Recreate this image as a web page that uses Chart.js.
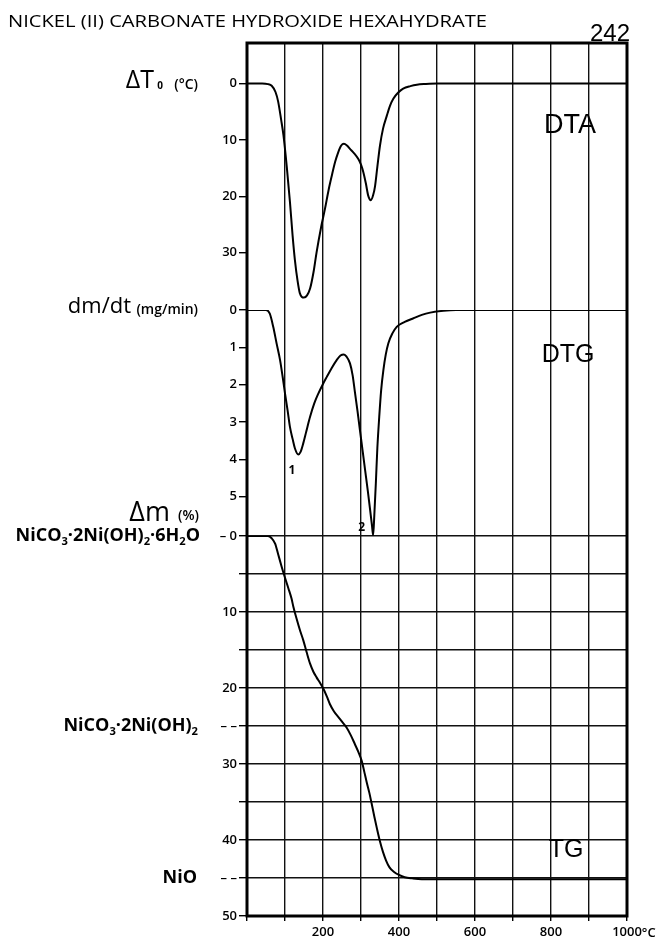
<!DOCTYPE html>
<html>
<head>
<meta charset="utf-8">
<script src="https://cdn.jsdelivr.net/npm/chart.js@4.4.1/dist/chart.umd.min.js"></script>
<style>
  body { margin: 0; background: #fff; }
</style>
</head>
<body>
<canvas id="myChart" width="659" height="940"></canvas>
<script>
'use strict';

// DTA curve: temperature (°C) and ΔT (°C, endotherm downwards)
const dtaTemp = [0, 40, 55, 65, 75, 82, 90, 96, 105, 113, 120, 126, 133, 139, 150, 158, 166, 175, 183, 195, 205, 215, 223, 232, 240, 248, 255, 263, 271, 282, 293, 300, 306, 313, 319, 326, 332, 337, 343, 350, 358, 368, 376, 385, 398, 411, 430, 447, 470, 500, 1000];
const dtaVal = [0, 0, 0.1, 0.4, 1.5, 3.2, 6.5, 9.2, 15, 21, 27, 31.3, 35, 37.2, 38, 37.6, 36.4, 33.5, 30, 25.5, 22.3, 18.8, 16.4, 13.9, 12.2, 11.0, 10.7, 11.0, 11.6, 12.4, 13.4, 14.4, 15.7, 17.8, 19.9, 20.7, 19.8, 18.2, 14.8, 11.0, 8.0, 5.7, 4.0, 2.7, 1.6, 0.9, 0.45, 0.2, 0.08, 0, 0];

// DTG curve: temperature (°C) and dm/dt (mg/min)
const dtgTemp = [0, 50, 60, 69, 78, 87, 94, 100, 107, 113, 120, 126, 135, 141, 148, 156, 166, 177, 188, 199, 210, 223, 236, 246, 255, 262, 271, 278, 284, 291, 297, 304, 311, 318, 324, 329, 332, 335, 339, 343, 348, 353, 359, 365, 372, 383, 394, 415, 438, 460, 482, 517, 550, 1000];
const dtgVal = [0, 0, 0.1, 0.45, 0.9, 1.34, 1.8, 2.23, 2.7, 3.13, 3.45, 3.7, 3.87, 3.8, 3.57, 3.25, 2.86, 2.5, 2.23, 2.0, 1.79, 1.55, 1.34, 1.22, 1.19, 1.25, 1.43, 1.75, 2.2, 2.72, 3.2, 3.75, 4.3, 4.85, 5.35, 5.78, 6.03, 5.5, 4.65, 3.7, 2.86, 2.15, 1.6, 1.2, 0.89, 0.62, 0.45, 0.32, 0.22, 0.13, 0.07, 0.02, 0, 0];

// TG curve: temperature (°C) and mass loss Δm (%)
const tgTemp = [0, 55, 65, 74, 82, 91, 100, 109, 117, 122, 130, 140, 148, 157, 166, 175, 183, 192, 201, 210, 218, 229, 240, 251, 262, 273, 284, 293, 302, 309, 315, 322, 328, 335, 342, 350, 358, 366, 375, 387, 400, 415, 435, 460, 1000];
const tgVal = [0, 0, 0.3, 1.0, 2.4, 4.0, 5.5, 6.9, 8.2, 9.3, 10.8, 12.5, 13.7, 15.3, 16.8, 17.9, 18.6, 19.3, 20.1, 21.1, 22.1, 23.1, 23.8, 24.5, 25.2, 26.2, 27.4, 28.4, 29.6, 31.1, 32.4, 33.8, 35.2, 36.9, 38.5, 40.2, 41.6, 42.7, 43.6, 44.2, 44.6, 44.9, 45.05, 45.15, 45.15];

// tick values
const tempTicks = [0, 100, 200, 300, 400, 500, 600, 700, 800, 900, 1000];
const tempLabels = ['', '', '200', '', '400', '', '600', '', '800', '', '1000'];
const dtaTicks = [0, 10, 20, 30];
const dtgTicks = [0, 1, 2, 3, 4, 5];
const tgTicks = [0, 5, 10, 15, 20, 25, 30, 35, 40, 45, 50];
const tgLabels = ['– 0', '', '10', '', '20', '– –', '30', '', '40', '– –', '50'];

const tickFont = { family: '"Open Sans", sans-serif', size: 13, weight: '600' };

function toPoints(xs, ys) {
  return xs.map(function (t, i) { return { x: t, y: ys[i] }; });
}

function fixedTicks(values) {
  return function (scale) {
    scale.ticks = values.map(function (v) { return { value: v }; });
  };
}

// draws text made of normal and subscript parts, right-aligned at x
function drawRich(ctx, parts, x, y, size, weight) {
  const family = '"Open Sans", sans-serif';
  let total = 0;
  parts.forEach(function (p) {
    ctx.font = weight + ' ' + (p.sub ? size * 0.62 : size) + 'px ' + family;
    p.w = ctx.measureText(p.t).width;
    total += p.w;
  });
  let cx = x - total;
  ctx.textAlign = 'left';
  ctx.textBaseline = 'alphabetic';
  parts.forEach(function (p) {
    ctx.font = weight + ' ' + (p.sub ? size * 0.62 : size) + 'px ' + family;
    ctx.fillText(p.t, cx, p.sub ? y + size * 0.2 : y);
    cx += p.w;
  });
}

const paperPlugin = {
  id: 'paper',
  afterDraw: function (chart) {
    const ctx = chart.ctx;
    const a = chart.chartArea;
    const sx = chart.scales.x;
    const sA = chart.scales.yDTA;
    const sG = chart.scales.yDTG;
    const sT = chart.scales.yTG;
    ctx.save();
    ctx.fillStyle = '#000';
    ctx.strokeStyle = '#000';

    // frame round the plot
    ctx.lineWidth = 3;
    ctx.strokeRect(a.left, a.top, a.right - a.left, a.bottom - a.top);

    // page title and number
    ctx.font = '500 16px "Open Sans", sans-serif';
    ctx.textAlign = 'left';
    ctx.textBaseline = 'alphabetic';
    const title = 'NICKEL (II) CARBONATE HYDROXIDE HEXAHYDRATE';
    const tw = ctx.measureText(title).width;
    ctx.save();
    ctx.translate(8, 27);
    ctx.scale(479 / tw, 1);
    ctx.fillText(title, 0, 0);
    ctx.restore();
    ctx.font = '24px "Liberation Sans", sans-serif';
    ctx.textAlign = 'right';
    ctx.fillText('242', 630, 41);

    // curve names
    ctx.textAlign = 'center';
    ctx.textBaseline = 'middle';
    ctx.font = '27px "Liberation Sans", sans-serif';
    ctx.fillText('DTA', sx.getPixelForValue(850), sA.getPixelForValue(7.5));
    ctx.font = '25px "Liberation Sans", sans-serif';
    ctx.fillText('DTG', sx.getPixelForValue(845), sG.getPixelForValue(1.2));
    ctx.fillText('TG', sx.getPixelForValue(840), sT.getPixelForValue(41.3));

    // peak numbers on DTG
    ctx.font = 'bold 12px "Open Sans", sans-serif';
    ctx.fillText('1', sx.getPixelForValue(118), sG.getPixelForValue(4.3));
    ctx.fillText('2', sx.getPixelForValue(302), sG.getPixelForValue(5.82));

    // unit after last temperature label
    ctx.font = '600 13px "Open Sans", sans-serif';
    ctx.textAlign = 'left';
    ctx.textBaseline = 'middle';
    const w1000 = ctx.measureText('1000').width;
    ctx.fillText('°C', sx.getPixelForValue(1000) + w1000 / 2, a.bottom + 17);

    // axis titles
    const y0A = sA.getPixelForValue(0);
    drawRich(ctx, [{ t: 'ΔT' }], 154, y0A + 4, 25, '500');
    drawRich(ctx, [{ t: '0' }], 163, y0A + 5, 10, '700');
    drawRich(ctx, [{ t: '(°C)' }], 198, y0A + 5, 14, '600');

    const y0G = sG.getPixelForValue(0);
    drawRich(ctx, [{ t: 'dm/dt' }], 131, y0G + 3, 22, '500');
    drawRich(ctx, [{ t: '(mg/min)' }], 198, y0G + 4, 14, '600');

    const y0T = sT.getPixelForValue(0);
    drawRich(ctx, [{ t: 'Δm' }], 170, y0T - 15, 27, '500');
    drawRich(ctx, [{ t: '(%)' }], 199, y0T - 16, 14, '600');

    // compositions at the TG plateaus
    drawRich(ctx, [{ t: 'NiCO' }, { t: '3', sub: true }, { t: '·2Ni(OH)' }, { t: '2', sub: true },
      { t: '·6H' }, { t: '2', sub: true }, { t: 'O' }], 200, y0T + 5, 18, '700');
    drawRich(ctx, [{ t: 'NiCO' }, { t: '3', sub: true }, { t: '·2Ni(OH)' }, { t: '2', sub: true }],
      198, sT.getPixelForValue(25) + 5, 18, '700');
    drawRich(ctx, [{ t: 'NiO' }], 197, sT.getPixelForValue(45) + 5, 18, '700');

    ctx.restore();
  }
};

const lineStyle = {
  borderColor: '#000',
  borderWidth: 2,
  pointRadius: 0,
  cubicInterpolationMode: 'monotone',
  fill: false
};

const ctx = document.getElementById('myChart');
const myChart = new Chart(ctx, {
  type: 'line',
  data: {
    datasets: [
      Object.assign({ label: 'DTA', data: toPoints(dtaTemp, dtaVal), yAxisID: 'yDTA' }, lineStyle),
      Object.assign({ label: 'DTG', data: toPoints(dtgTemp, dtgVal), yAxisID: 'yDTG' }, lineStyle),
      Object.assign({ label: 'TG', data: toPoints(tgTemp, tgVal), yAxisID: 'yTG' }, lineStyle)
    ]
  },
  options: {
    responsive: false,
    animation: false,
    layout: { padding: { top: 43, right: 32, bottom: 0, left: 0 } },
    plugins: {
      legend: { display: false },
      tooltip: { enabled: false }
    },
    scales: {
      x: {
        type: 'linear',
        min: 0,
        max: 1000,
        afterBuildTicks: fixedTicks(tempTicks),
        afterFit: function (scale) { scale.height = 24; },
        border: { display: false },
        grid: { color: '#111', lineWidth: 1.4, tickLength: 5, tickColor: '#000' },
        ticks: {
          color: '#000',
          font: tickFont,
          padding: 3,
          maxRotation: 0,
          autoSkip: false,
          callback: function (v, i) { return tempLabels[i]; }
        }
      },
      yTG: {
        type: 'linear',
        position: 'left',
        stack: 'left',
        stackWeight: 380,
        weight: 1,
        reverse: true,
        min: 0,
        max: 50,
        afterBuildTicks: fixedTicks(tgTicks),
        afterFit: function (scale) { scale.width = 247; },
        border: { display: false },
        grid: { color: '#111', lineWidth: 1.4, tickLength: 8, tickColor: '#000' },
        ticks: {
          color: '#000',
          font: tickFont,
          padding: 2,
          autoSkip: false,
          callback: function (v, i) { return tgLabels[i]; }
        }
      },
      yDTG: {
        type: 'linear',
        position: 'left',
        stack: 'left',
        stackWeight: 226,
        weight: 2,
        reverse: true,
        min: 0,
        max: 6.05,
        afterBuildTicks: fixedTicks(dtgTicks),
        afterFit: function (scale) { scale.width = 247; },
        border: { display: false },
        grid: { drawOnChartArea: false, lineWidth: 1.4, tickLength: 8, tickColor: '#000' },
        ticks: { color: '#000', font: tickFont, padding: 2, autoSkip: false }
      },
      yDTA: {
        type: 'linear',
        position: 'left',
        stack: 'left',
        stackWeight: 267,
        weight: 3,
        reverse: true,
        min: -7.2,
        max: 40.2,
        afterBuildTicks: fixedTicks(dtaTicks),
        afterFit: function (scale) { scale.width = 247; },
        border: { display: false },
        grid: { drawOnChartArea: false, lineWidth: 1.4, tickLength: 8, tickColor: '#000' },
        ticks: { color: '#000', font: tickFont, padding: 2, autoSkip: false }
      }
    }
  },
  plugins: [paperPlugin]
});
</script>
</body>
</html>
